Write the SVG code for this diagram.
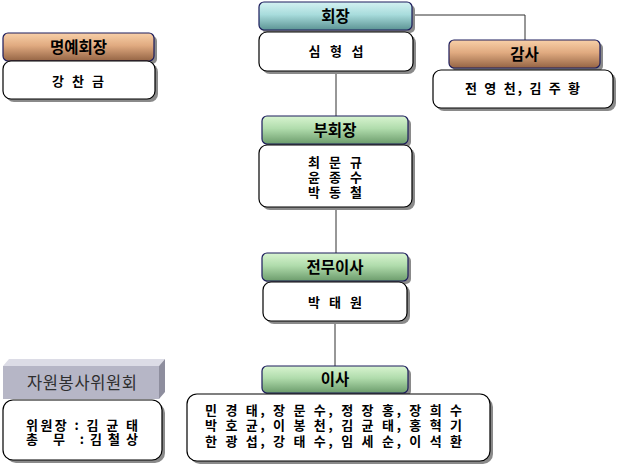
<svg xmlns="http://www.w3.org/2000/svg" width="619" height="465" viewBox="0 0 619 465">
<defs>
<linearGradient id="gTeal" x1="0" y1="0" x2="0" y2="1">
<stop offset="0" stop-color="#d4f2f2"/><stop offset="0.45" stop-color="#a8dcdc"/><stop offset="1" stop-color="#5c9494"/>
</linearGradient>
<linearGradient id="gTan" x1="0" y1="0" x2="0" y2="1">
<stop offset="0" stop-color="#f8d0a8"/><stop offset="0.45" stop-color="#e0aa80"/><stop offset="1" stop-color="#946444"/>
</linearGradient>
<linearGradient id="gGreen" x1="0" y1="0" x2="0" y2="1">
<stop offset="0" stop-color="#d8f4d0"/><stop offset="0.45" stop-color="#b0dcac"/><stop offset="1" stop-color="#6c9c6c"/>
</linearGradient>
</defs>
<style>
.hdr{stroke:#1c1c5c;stroke-width:1.2}
.body{fill:#ffffff;stroke:#000000;stroke-width:1.2}
.shadow{fill:#8a8a8a}
.ht{font-family:"Noto Sans CJK KR","Noto Sans",sans-serif;font-weight:bold;font-size:15.5px;fill:#000;text-anchor:middle}
.bt{font-family:"Noto Sans CJK KR","Noto Sans",sans-serif;font-weight:bold;font-size:13px;fill:#000;text-anchor:middle}
.bl{font-family:"Noto Sans CJK KR","Noto Sans",sans-serif;font-weight:bold;font-size:13px;fill:#000;text-anchor:start}
.conn{stroke:#303030;stroke-width:1;fill:none}
</style>
<g id="connectors">
<polyline class="conn" points="412,15 525,15 525,40"/>
<line class="conn" x1="336" y1="71" x2="336" y2="116"/>
<line class="conn" x1="336" y1="207" x2="336" y2="253"/>
<line class="conn" x1="335" y1="321" x2="335" y2="366"/>
</g>
<g id="honorary">
<rect class="shadow" x="6" y="36" width="151" height="28" rx="5"/>
<rect class="hdr" x="3" y="33" width="151" height="28" rx="5" fill="url(#gTan)"/>
<text class="ht" x="78.5" y="52.5">명예회장</text>
<rect class="shadow" x="6" y="64" width="152" height="38" rx="8"/>
<rect class="body" x="3" y="61" width="152" height="38" rx="8"/>
<text class="bt" x="78" y="86" textLength="52" lengthAdjust="spacing">강 찬 금</text>
</g>
<g id="president">
<rect class="shadow" x="262" y="5" width="153" height="28" rx="5"/>
<rect class="hdr" x="259" y="2" width="153" height="28" rx="5" fill="url(#gTeal)"/>
<text class="ht" x="335.5" y="21.5">회장</text>
<rect class="shadow" x="262" y="35" width="154" height="39" rx="8"/>
<rect class="body" x="259" y="32" width="154" height="39" rx="8"/>
<text class="bt" x="336" y="56" textLength="55" lengthAdjust="spacing">심 형 섭</text>
</g>
<g id="auditor">
<rect class="shadow" x="452" y="43" width="151" height="28" rx="5"/>
<rect class="hdr" x="449" y="40" width="151" height="28" rx="5" fill="url(#gTan)"/>
<text class="ht" x="524.5" y="59.5">감사</text>
<rect class="shadow" x="436" y="73" width="180" height="38" rx="8"/>
<rect class="body" x="433" y="70" width="180" height="38" rx="8"/>
<text class="bt" x="522.5" y="93" textLength="115" lengthAdjust="spacing">전 영 천, 김 주 황</text>
</g>
<g id="vice-president">
<rect class="shadow" x="265" y="119" width="146" height="28" rx="5"/>
<rect class="hdr" x="262" y="116" width="146" height="28" rx="5" fill="url(#gGreen)"/>
<text class="ht" x="335" y="135.5">부회장</text>
<rect class="shadow" x="262" y="148" width="153" height="62" rx="8"/>
<rect class="body" x="259" y="145" width="153" height="62" rx="8"/>
<text class="bt" x="335" y="167" textLength="54" lengthAdjust="spacing">최 문 규</text>
<text class="bt" x="335" y="182" textLength="54" lengthAdjust="spacing">윤 종 수</text>
<text class="bt" x="335" y="197" textLength="54" lengthAdjust="spacing">박 동 철</text>
</g>
<g id="executive-director">
<rect class="shadow" x="265" y="256" width="146" height="28" rx="5"/>
<rect class="hdr" x="262" y="253" width="146" height="28" rx="5" fill="url(#gGreen)"/>
<text class="ht" x="335" y="272.5">전무이사</text>
<rect class="shadow" x="266" y="285" width="144" height="39" rx="8"/>
<rect class="body" x="263" y="282" width="144" height="39" rx="8"/>
<text class="bt" x="335" y="307" textLength="54" lengthAdjust="spacing">박 태 원</text>
</g>
<g id="directors">
<rect class="shadow" x="265" y="369" width="146" height="27" rx="5"/>
<rect class="hdr" x="262" y="366" width="146" height="27" rx="5" fill="url(#gGreen)"/>
<text class="ht" x="335" y="385">이사</text>
<rect class="shadow" x="190" y="397" width="303" height="67" rx="10"/>
<rect class="body" x="187" y="394" width="303" height="67" rx="10"/>
<text class="bt" x="333.5" y="415" textLength="257" lengthAdjust="spacing">민 경 태, 장 문 수, 정 장 홍, 장 희 수</text>
<text class="bt" x="333.5" y="430" textLength="257" lengthAdjust="spacing">박 호 균, 이 봉 천, 김 균 태, 홍 혁 기</text>
<text class="bt" x="333.5" y="446" textLength="257" lengthAdjust="spacing">한 광 섭, 강 태 수, 임 세 순, 이 석 환</text>
</g>
<g id="volunteer-committee">
<polygon points="3,366 9,359 165,359 159,366" fill="#dcdce6"/>
<polygon points="159,366 165,359 165,392 159,399" fill="#8e8e9e"/>
<rect x="3" y="366" width="156" height="33" fill="#b6b6c6"/>
<text x="82" y="389" font-family="Noto Sans CJK KR, Noto Sans, sans-serif" font-size="16.5" fill="#2e2e2e" text-anchor="middle" textLength="110" lengthAdjust="spacing">자원봉사위원회</text>
<rect class="shadow" x="6" y="403" width="159" height="60" rx="10"/>
<rect class="body" x="3" y="400" width="159" height="60" rx="10"/>
<text class="bl" x="26" y="430" textLength="112" lengthAdjust="spacing">위원장 : 김 균 태</text>
<text class="bl" x="26" y="444" textLength="112" lengthAdjust="spacing">총  무 :김철상</text>
</g>
</svg>
